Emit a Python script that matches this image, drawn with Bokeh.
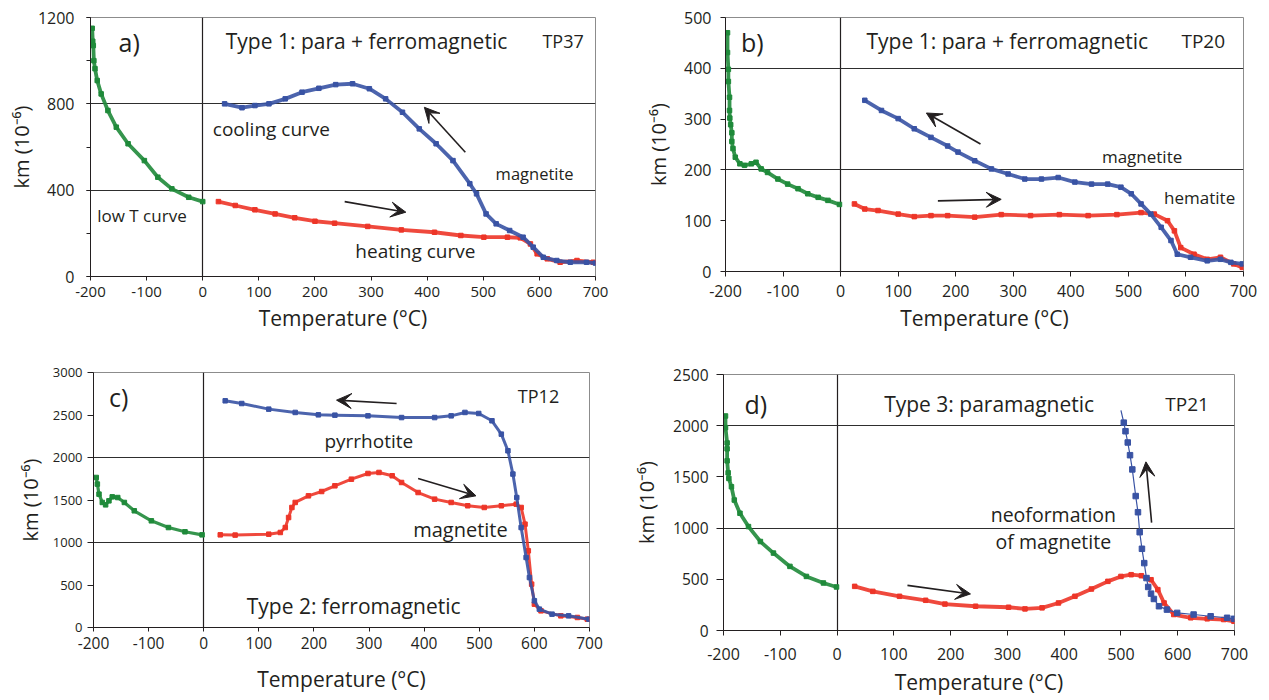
from bokeh.plotting import figure
from bokeh.layouts import column, row
from bokeh.models import (Range1d, FixedTicker, SingleIntervalTicker, Label, Arrow, VeeHead,
                          PrintfTickFormatter)
from bokeh.embed import file_html
from bokeh.resources import INLINE

# ---------------- data ----------------
# Panel a) TP37
a_low_T = [-197, -196, -195, -194, -192, -188, -181, -169, -154, -133, -104, -80, -55, -25, 0]
a_low_km = [1150, 1090, 1070, 1000, 963, 908, 846, 769, 692, 615, 537, 460, 406, 367, 347]
a_heat_T = [28, 58, 93, 129, 164, 200, 235, 294, 354, 413, 460, 501, 543, 566, 584, 596, 614, 637, 667, 696]
a_heat_km = [347, 329, 309, 290, 272, 256, 247, 232, 216, 205, 190, 182, 182, 179, 151, 105, 82, 66, 74, 66]
a_cool_T = [39, 70, 93, 118, 147, 177, 207, 237, 267, 297, 326, 356, 386, 416, 446, 476, 488, 505, 523, 547, 571, 589, 607, 631, 655, 684, 700]
a_cool_km = [800, 782, 792, 800, 823, 854, 872, 889, 893, 870, 823, 761, 684, 615, 537, 430, 383, 290, 244, 213, 182, 136, 89, 74, 66, 66, 62]

# Panel b) TP20
b_low_T = [-196.5, -196.5, -195, -195, -193, -193, -192.5, -191, -189, -189, -187, -183, -175, -167, -155, -147, -138, -127, -109, -92, -74, -57, -39, -22, -2]
b_low_km = [470, 431, 398, 374, 343, 317, 302, 289, 273, 256, 242, 225, 212, 209, 212, 215, 202, 195, 182, 172, 163, 153, 146, 140, 132]
b_heat_T = [24, 42, 65, 100, 128, 157, 186, 233, 279, 330, 380, 430, 480, 522, 545, 568, 580, 591, 614, 637, 660, 683, 698]
b_heat_km = [133, 123, 120, 113, 108, 110, 110, 107, 112, 110, 112, 110, 112, 116, 113, 100, 80, 47, 34, 24, 28, 15, 8]
b_cool_T = [42, 71, 100, 128, 157, 186, 204, 233, 262, 291, 320, 349, 378, 407, 436, 464, 487, 505, 522, 539, 557, 574, 585, 608, 637, 660, 678, 698]
b_cool_km = [337, 317, 301, 281, 264, 247, 235, 218, 202, 192, 182, 182, 185, 176, 172, 172, 166, 153, 133, 113, 87, 61, 34, 28, 21, 24, 18, 15]

# Panel c) TP12
c_low_T = [-195, -193, -190, -184, -178, -172, -166, -156, -144, -126, -95, -64, -34, -3]
c_low_km = [1765, 1687, 1569, 1471, 1443, 1490, 1537, 1529, 1471, 1373, 1255, 1176, 1126, 1090]
c_heat_T = [30, 57, 118, 139, 148, 154, 160, 166, 190, 214, 238, 268, 298, 318, 342, 359, 389, 419, 449, 479, 509, 540, 567, 576, 583, 589, 595, 600, 612, 648, 678, 696]
c_heat_km = [1090, 1087, 1098, 1118, 1176, 1294, 1412, 1471, 1549, 1600, 1667, 1745, 1812, 1824, 1785, 1706, 1588, 1510, 1471, 1432, 1412, 1432, 1451, 1412, 1216, 902, 510, 275, 196, 137, 118, 98]
c_cool_T = [39, 69, 118, 166, 208, 238, 298, 359, 419, 449, 474, 499, 523, 540, 552, 561, 568, 576, 585, 591, 600, 609, 632, 662, 699]
c_cool_km = [2667, 2635, 2569, 2530, 2502, 2498, 2490, 2470, 2470, 2490, 2530, 2518, 2432, 2275, 2079, 1805, 1529, 1176, 824, 588, 314, 216, 157, 137, 98]

# Panel d) TP21
d_low_T = [-196.5, -196.5, -193.6, -193.6, -193.6, -191.8, -190.6, -186, -181, -171, -156, -135, -112, -83, -54, -24, -1]
d_low_km = [2095, 1981, 1832, 1774, 1657, 1540, 1485, 1404, 1274, 1145, 1015, 869, 756, 626, 528, 464, 425]
d_heat_T = [31, 63, 110, 156, 190, 244, 302, 331, 361, 390, 419, 448, 477, 500, 518, 536, 553, 565, 576, 593, 623, 652, 681, 699]
d_heat_km = [431, 382, 334, 295, 258, 237, 227, 211, 221, 269, 334, 405, 480, 528, 545, 535, 496, 399, 269, 156, 124, 114, 107, 90]
d_cool_T = [500, 505, 508, 512, 516, 520, 526, 530, 533, 537, 541, 545, 548, 553, 558, 567, 581, 599, 628, 658, 687, 699]
d_cool_km = [2150, 2030, 1946, 1836, 1712, 1573, 1313, 1155, 960, 798, 658, 512, 425, 360, 308, 237, 204, 172, 156, 139, 124, 114]

x_label = "Temperature (°C)"
y_label = "km (10⁻⁶)"

# ---------------- style ----------------
FONT = "Open Sans"
TXT = "#231f20"
GREEN = "#1f8a3a"
BLUE = "#3953a4"
RED = "#ed3528"


def make_panel(w, h, borders, ymax, ytick, yminor, grid_vals, ytick_font, xtick_font,
               y_std, y_out, x_std, x_out, ylab_std, xlab_std):
    p = figure(width=w, height=h, x_range=Range1d(-200, 700), y_range=Range1d(0, ymax),
               output_backend="svg", toolbar_location=None,
               min_border_left=borders[0], min_border_right=borders[1],
               min_border_top=borders[2], min_border_bottom=borders[3])
    p.outline_line_color = "#8c8c8c"
    p.outline_line_width = 1
    p.background_fill_color = "white"
    p.border_fill_color = "white"

    p.xaxis.ticker = SingleIntervalTicker(interval=100, num_minor_ticks=0)
    p.yaxis.ticker = SingleIntervalTicker(interval=ytick, num_minor_ticks=yminor)
    p.xaxis.formatter = PrintfTickFormatter(format="%d")
    p.yaxis.formatter = PrintfTickFormatter(format="%d")
    for ax in (p.xaxis[0], p.yaxis[0]):
        ax.axis_line_color = TXT
        ax.axis_line_width = 1
        ax.major_tick_line_color = TXT
        ax.minor_tick_line_color = TXT
        ax.major_tick_in = 0
        ax.minor_tick_in = 0
        ax.major_label_text_font = FONT
        ax.major_label_text_color = TXT
        ax.axis_label_text_font = FONT
        ax.axis_label_text_font_style = "normal"
        ax.axis_label_text_color = TXT
    p.xaxis.major_label_text_font_size = xtick_font
    p.yaxis.major_label_text_font_size = ytick_font
    p.xaxis.major_tick_out = x_out
    p.yaxis.major_tick_out = y_out
    p.yaxis.minor_tick_out = y_out
    if yminor == 0:
        p.yaxis.minor_tick_line_color = None
    p.xaxis.minor_tick_line_color = None
    p.xaxis.major_label_standoff = x_std
    p.yaxis.major_label_standoff = y_std
    p.xaxis.axis_label = x_label
    p.yaxis.axis_label = y_label
    p.xaxis.axis_label_text_font_size = "21px"
    p.yaxis.axis_label_text_font_size = "20px"
    p.xaxis.axis_label_standoff = xlab_std
    p.yaxis.axis_label_standoff = ylab_std

    p.xgrid.ticker = FixedTicker(ticks=[0])
    p.xgrid.grid_line_color = TXT
    p.xgrid.grid_line_width = 1.2
    p.ygrid.ticker = FixedTicker(ticks=grid_vals)
    p.ygrid.grid_line_color = "#2e2e2e"
    p.ygrid.grid_line_width = 1
    return p


def curve(p, xs, ys, color, lw=3.8, ms=4.5):
    p.line(xs, ys, line_color=color, line_width=lw, line_alpha=0.9)
    p.scatter(xs, ys, marker="square", size=ms, fill_color=color, line_color=color)


def label(p, x, y, text, size, align="left"):
    p.add_layout(Label(x=x, y=y, text=text, text_font=FONT, text_font_size=size,
                       text_color=TXT, text_align=align, text_baseline="middle"))


def arrow(p, x0, y0, x1, y1):
    p.add_layout(Arrow(end=VeeHead(size=15, fill_color=TXT, line_color=TXT),
                       x_start=x0, y_start=y0, x_end=x1, y_end=y1,
                       line_color=TXT, line_width=1.6))


# ---------------- panel a ----------------
pa = make_panel(630, 359, (90, 35, 17, 83), 1200, 400, 2, [400, 800], "16px", "15px",
                12, 4, 6, 4, 0, 4)
curve(pa, a_low_T, a_low_km, GREEN)
curve(pa, a_heat_T, a_heat_km, RED)
curve(pa, a_cool_T, a_cool_km, BLUE)
label(pa, -150, 1088, "a)", "25px")
label(pa, 41, 1093, "Type 1: para + ferromagnetic", "21px")
label(pa, 679, 1093, "TP37", "18px", "right")
label(pa, 18, 684, "cooling curve", "19px")
label(pa, 522, 476, "magnetite", "16.5px")
label(pa, -188, 283, "low T curve", "17px")
label(pa, 272, 120, "heating curve", "19px")
arrow(pa, 468, 576, 395, 784)
arrow(pa, 253, 347, 362, 298)

# ---------------- panel b ----------------
pb = make_panel(638, 359, (95, 25, 17, 88), 500, 100, 0, [200, 400], "16px", "16px",
                9, 5, 8, 5, 9, 4)
curve(pb, b_low_T, b_low_km, GREEN)
curve(pb, b_heat_T, b_heat_km, RED)
curve(pb, b_cool_T, b_cool_km, BLUE)
label(pb, -173, 451, "b)", "25px")
label(pb, 45, 453, "Type 1: para + ferromagnetic", "21px")
label(pb, 668, 453, "TP20", "19px", "right")
label(pb, 454, 227, "magnetite", "17px")
label(pb, 562, 146, "hematite", "17px")
arrow(pb, 243, 251, 149, 312)
arrow(pb, 169, 139, 279, 142)

# ---------------- panel c ----------------
pc = make_panel(630, 341, (93, 41, 13, 73), 3000, 500, 0, [1000, 2000], "13px", "15.5px",
                5, 6, 5, 4, 6, 13)
curve(pc, c_low_T, c_low_km, GREEN, lw=3.2)
curve(pc, c_heat_T, c_heat_km, RED, lw=3.0)
curve(pc, c_cool_T, c_cool_km, BLUE, lw=3.0)
label(pc, -172, 2706, "c)", "25px")
label(pc, 570, 2726, "TP12", "18px")
label(pc, 219, 2197, "pyrrhotite", "19px")
label(pc, 380, 1158, "magnetite", "20px")
label(pc, 78, 255, "Type 2: ferromagnetic", "21px")
arrow(pc, 350, 2635, 241, 2675)
arrow(pc, 389, 1753, 494, 1549)

# ---------------- panel d ----------------
pd_ = make_panel(638, 341, (91, 34, 15, 70), 2500, 500, 0, [1000, 2000], "15.5px", "16px",
                 8, 7, 12, 5, 10, 5)
curve(pd_, d_low_T, d_low_km, GREEN)
curve(pd_, d_heat_T, d_heat_km, RED)
pd_.line(d_cool_T, d_cool_km, line_color=BLUE, line_width=1.2)
pd_.scatter(d_cool_T[1:], d_cool_km[1:], marker="square", size=5.5, fill_color=BLUE, line_color=BLUE)
label(pd_, -163, 2215, "d)", "25px")
label(pd_, 83, 2215, "Type 3: paramagnetic", "21px")
label(pd_, 578, 2215, "TP21", "19px")
label(pd_, 381, 1128, "neoformation", "19.5px", "center")
label(pd_, 381, 869, "of magnetite", "19.5px", "center")
arrow(pd_, 124, 441, 235, 357)
arrow(pd_, 554, 1054, 544, 1647)

# each figure wrapped in its own column so frames are not forced to align across a row
layout = column(row(column(pa), column(pb)), row(column(pc), column(pd_)))
open("out.html", "w").write(file_html(layout, INLINE))
